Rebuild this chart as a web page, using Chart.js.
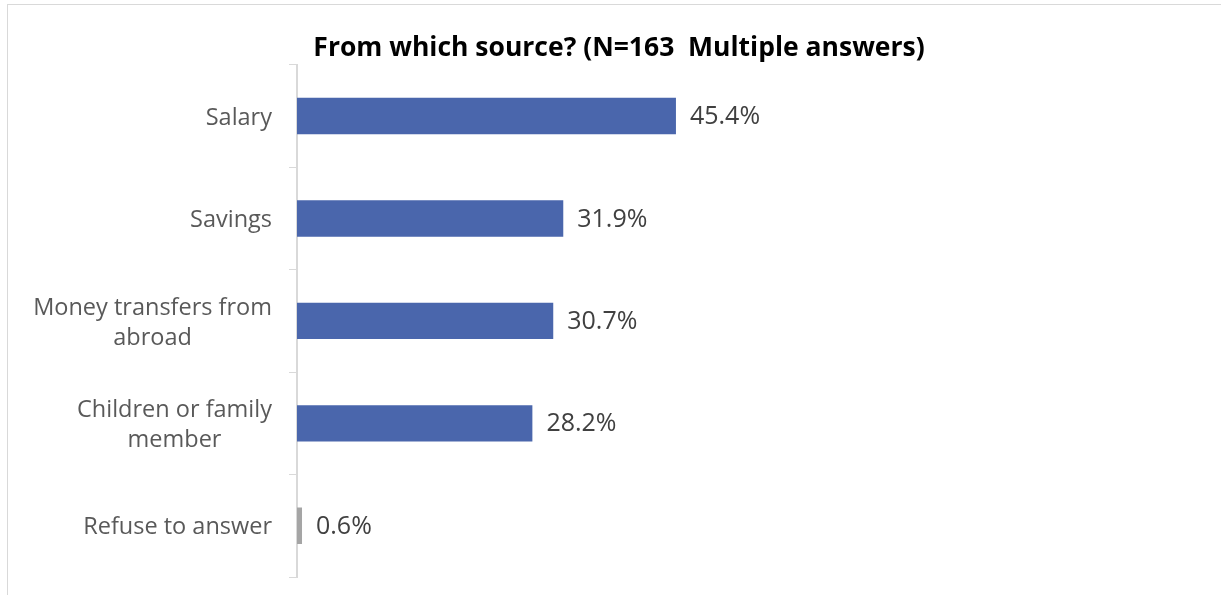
<!DOCTYPE html>
<html>
<head>
<meta charset="utf-8">
<script src="https://cdn.jsdelivr.net/npm/chart.js@4"></script>
<style>
  html, body { margin: 0; padding: 0; background: #fff; overflow: hidden; }
  .frame { position: absolute; left: 7px; top: 4px; width: 1300px; height: 700px; border: 1px solid #d9d9d9; }
  .wrap { position: absolute; left: 0; top: 0; width: 1221px; height: 595px; }
</style>
</head>
<body>
<div class="frame"></div>
<div class="wrap"><canvas class="chart"></canvas></div>
<script>
// Datos

const categories = [
  ["Salary"],
  ["Savings"],
  ["Money transfers from", "abroad"],
  ["Children or family", "member"],
  ["Refuse to answer"],
];
const values = [45.4, 31.9, 30.7, 28.2, 0.6];
const valueLabels = ["45.4%", "31.9%", "30.7%", "28.2%", "0.6%"];
const barColors = ["#4A66AC", "#4A66AC", "#4A66AC", "#4A66AC", "#A5A5A5"];

const labelFont = "23.5px 'Open Sans'";

// category labels: block right aligned, lines centered inside the block
const categoryLabels = {
  id: "categoryLabels",
  afterDraw(chart) {
    const ctx = chart.ctx;
    const y = chart.scales.y;
    ctx.save();
    ctx.font = labelFont;
    ctx.fillStyle = "#595959";
    ctx.textAlign = "center";
    ctx.textBaseline = "middle";
    categories.forEach((lines, i) => {
      const maxW = Math.max(...lines.map((l) => ctx.measureText(l).width));
      const cx = 272 - maxW / 2;
      const cy = y.getPixelForValue(i) + 2;
      const lh = 30;
      lines.forEach((l, k) => {
        ctx.fillText(l, cx, cy + (k - (lines.length - 1) / 2) * lh);
      });
    });
    ctx.restore();
  },
};

const valueLabelsPlugin = {
  id: "valueLabels",
  afterDatasetsDraw(chart) {
    const ctx = chart.ctx;
    const meta = chart.getDatasetMeta(0);
    ctx.save();
    ctx.font = "25px 'Open Sans'";
    ctx.fillStyle = "#404040";
    ctx.textAlign = "left";
    ctx.textBaseline = "middle";
    meta.data.forEach((bar, i) => {
      ctx.fillText(valueLabels[i], bar.x + 14, bar.y + 1);
    });
    ctx.restore();
  },
};

const chart = document.querySelector(".chart").getContext("2d");

const config = {
  type: "bar",
  data: {
    labels: categories,
    datasets: [
      {
        data: values,
        backgroundColor: barColors,
        borderWidth: 0,
        barPercentage: 0.355,
        categoryPercentage: 1,
      },
    ],
  },
  options: {
    indexAxis: "y",
    responsive: false,
    animation: false,
    layout: { padding: { left: 17, right: 0, top: 0, bottom: 18 } },
    plugins: {
      legend: { display: false },
      tooltip: { enabled: false },
      title: {
        display: true,
        text: "From which source? (N=163  Multiple answers)",
        color: "#000",
        font: { family: "'Open Sans'", size: 26.5, weight: "bold", lineHeight: 1.2 },
        padding: { top: 33, bottom: 0 },
      },
    },
    scales: {
      x: { display: false, min: 0, max: 110.7 },
      y: {
        grid: {
          offset: true,
          drawOnChartArea: false,
          drawTicks: true,
          tickLength: 8,
          color: "#d9d9d9",
          lineWidth: 1,
        },
        border: { color: "#d9d9d9", width: 2 },
        ticks: { color: "rgba(0,0,0,0)", padding: 0 },
        afterFit(scale) {
          scale.width = 280;
        },
      },
    },
  },
  plugins: [categoryLabels, valueLabelsPlugin],
};

const canvas = document.querySelector(".chart");
canvas.width = 1221;
canvas.height = 595;
const myChart = new Chart(chart, config);
</script>
</body>
</html>
